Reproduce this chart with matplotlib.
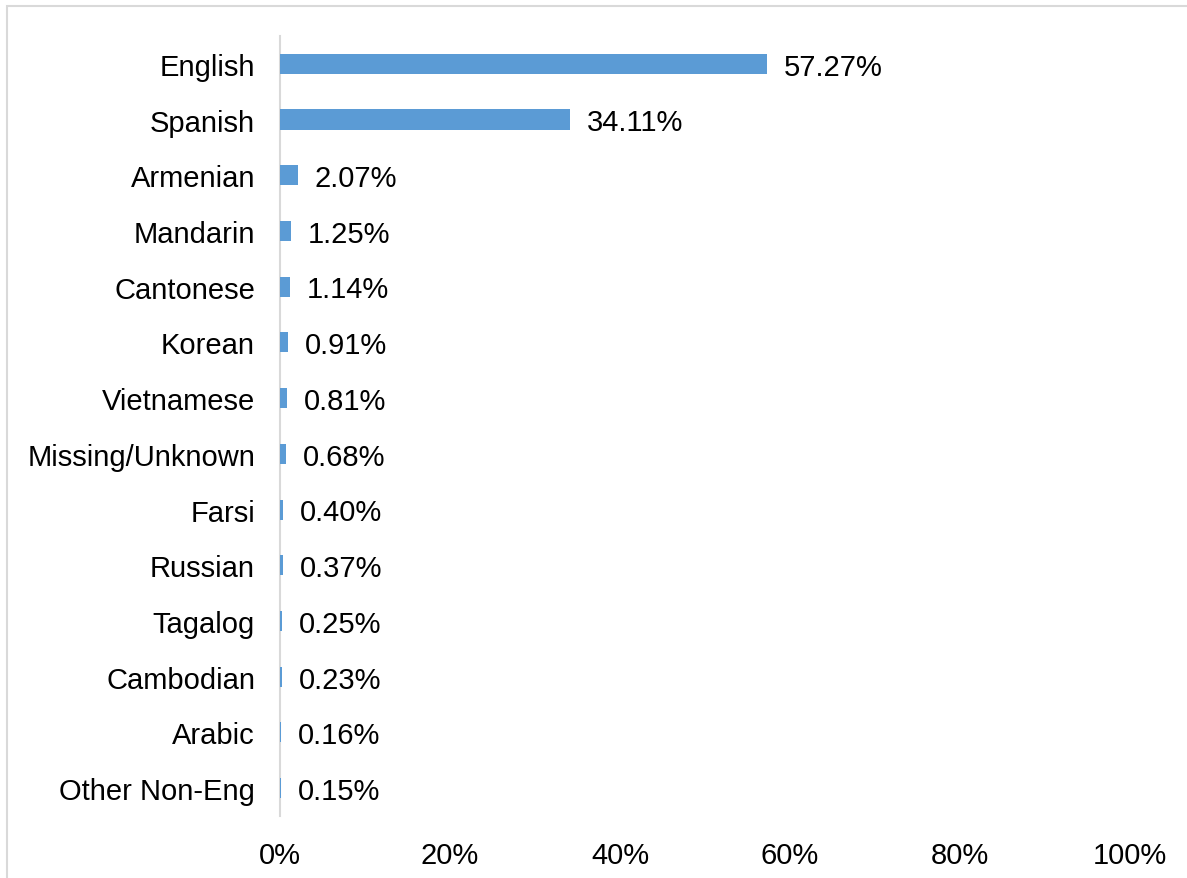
import matplotlib.pyplot as plt
import matplotlib.patches as patches

plt.rcParams['font.family'] = ['Liberation Sans', 'DejaVu Sans']

languages = ['English', 'Spanish', 'Armenian', 'Mandarin', 'Cantonese', 'Korean',
             'Vietnamese', 'Missing/Unknown', 'Farsi', 'Russian', 'Tagalog',
             'Cambodian', 'Arabic', 'Other Non-Eng']
shares = [57.27, 34.11, 2.07, 1.25, 1.14, 0.91, 0.81, 0.68, 0.40, 0.37, 0.25,
          0.23, 0.16, 0.15]
xticks = [0, 20, 40, 60, 80, 100]

fig = plt.figure(figsize=(11.87, 8.79), dpi=100)
ax = fig.add_axes([0.2359, 0.0705, 0.716, 0.8875])

pos = list(range(len(languages)))
ax.barh(pos, shares, height=0.36, color='#5B9BD5', zorder=3)
for y, v in zip(pos, shares):
    ax.annotate(f'{v:.2f}%', (v, y), xytext=(12, -2), textcoords='offset points',
                va='center', ha='left', fontsize=21, color='black')

ax.set_ylim(len(languages) - 0.5, -0.5)
ax.set_xlim(0, 100)
ax.set_yticks(pos)
ax.set_yticklabels(languages, fontsize=21)
ax.set_xticks(xticks)
ax.set_xticklabels([f'{t}%' for t in xticks], fontsize=21)
ax.tick_params(axis='both', length=0)
ax.tick_params(axis='y', pad=18)
ax.tick_params(axis='x', pad=18)
for lbl in ax.get_yticklabels():
    lbl.set_va('center_baseline')

for s in ['top', 'right', 'bottom']:
    ax.spines[s].set_visible(False)
ax.spines['left'].set_color('#D9D9D9')
ax.spines['left'].set_linewidth(1.5)
ax.spines['left'].set_zorder(1)

# chart frame
frame = patches.Rectangle((7 / 1187, -0.2), 1.2, 1.2 - 7 / 879, transform=fig.transFigure,
                          fill=False, edgecolor='#D9D9D9', linewidth=1.5, clip_on=False)
fig.patches.append(frame)

fig.savefig('out.png', dpi=100)
